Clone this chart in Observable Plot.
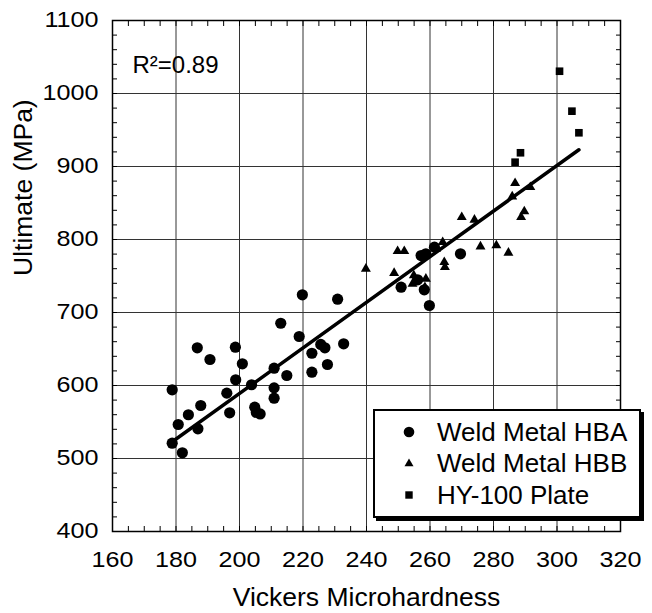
<!DOCTYPE html>
<html><head><meta charset="utf-8">
<script src="https://cdn.jsdelivr.net/npm/d3@7"></script>
<script src="https://cdn.jsdelivr.net/npm/@observablehq/plot@0.6"></script>
<style>
body{margin:0;background:#fff;font-family:"Liberation Sans",Arial,sans-serif;}
#wrap{position:relative;width:652px;height:613px;background:#fff;}
#legend{position:absolute;left:373px;top:409px;width:264px;height:105px;border:2px solid #000;box-shadow:3px 3px 0 #000;background:#fff;}
.row{position:absolute;left:0;height:30px;display:flex;align-items:center;font-size:26px;color:#000;white-space:nowrap;}
.row svg{margin-left:24px;margin-right:18px;}
</style></head><body><div id="wrap"></div>
<script>
// Weld Metal HBA (circles)
const hbaX = [186.7,190.7,198.7,200.9,210.9,213.0,198.8,203.8,210.9,210.9,178.8,196.0,187.8,183.9,196.9,204.8,205.3,206.5,180.7,186.9,178.8,182.0,
  219.8,230.9,218.8,225.6,226.9,232.8,222.8,227.7,222.8,214.9,257.2,258.7,261.4,269.6,250.9,256.1,258.2,259.8];
const hbaY = [651.6,635.6,652.5,629.7,623.7,685.3,607.8,601.0,596.8,582.6,594.1,589.5,572.6,559.9,562.6,570.3,563.0,561.0,546.6,540.7,521.0,507.8,
  724.2,718.2,667.1,656.2,651.6,657.1,644.2,628.8,618.2,613.7,778.0,780.4,789.5,780.4,734.7,744.8,731.1,709.6];
// Weld Metal HBB (triangles)
const hbbX = [239.8,249.8,251.9,248.7,254.9,254.5,258.7,258.4,264.0,264.5,264.7,261.9,270.0,274.0,275.9,280.9,284.7,286.8,291.6,285.9,289.7,288.7];
const hbbY = [759.9,784.0,784.0,754.0,750.7,739.3,746.2,734.7,796.3,768.9,762.0,787.3,830.5,827.0,790.4,791.8,781.8,877.1,871.6,858.9,838.4,830.5];
// HY-100 Plate (squares)
const plateX = [300.8,304.7,306.9,288.5,286.8];
const plateY = [1030.5,975.8,946.2,918.8,905.9];
// regression line end points
const fitX = [178.6,306.9];
const fitY = [522.3,922.9];
// ticks
const xTicks = [160,180,200,220,240,260,280,300,320];
const yTicks = [400,500,600,700,800,900,1000,1100];
const xMinor = d3.range(160,321,5);
const yMinor = d3.range(400,1101,20);
const seriesNames = ["Weld Metal HBA","Weld Metal HBB","HY-100 Plate"];
const r2Label = "R²=0.89";

const rows = (xs, ys) => xs.map((x,i)=>({x, y: ys[i]}));
const hba = rows(hbaX,hbaY), hbb = rows(hbbX,hbbY), plate = rows(plateX,plateY), fit = rows(fitX,fitY);
const noText = () => "";
const plain = d => String(d);

const plot = Plot.plot({
  width:652, height:613, marginLeft:112, marginRight:32, marginTop:20, marginBottom:82,
  x:{domain:[160,320]}, y:{domain:[400,1100]},
  style:{fontFamily:"'Liberation Sans', Arial, sans-serif", color:"#000", background:"#fff"},
  marks:[
    Plot.ruleX(xTicks.slice(1,-1), {stroke:"#333", strokeWidth:1}),
    Plot.ruleY(yTicks.slice(1,-1), {stroke:"#333", strokeWidth:1}),
    Plot.axisX(xMinor, {anchor:"bottom", tickSize:5, dy:-5, tickFormat:noText, label:null}),
    Plot.axisX(xMinor, {anchor:"top", tickSize:5, dy:5, tickFormat:noText, label:null}),
    Plot.axisY(yMinor, {anchor:"left", tickSize:5, dx:5, tickFormat:noText, label:null}),
    Plot.axisY(yMinor, {anchor:"right", tickSize:5, dx:-5, tickFormat:noText, label:null}),
    Plot.axisX(xTicks, {anchor:"bottom", tickSize:0, tickPadding:20, fontSize:21.5, tickFormat:plain, label:null}),
    Plot.axisY(yTicks, {anchor:"left", tickSize:0, tickPadding:14, fontSize:21.5, tickFormat:plain, label:null}),
    Plot.frame({stroke:"#000", strokeWidth:1.5}),
    Plot.line(fit, {x:"x", y:"y", stroke:"#000", strokeWidth:3.5}),
    Plot.dot(hba, {x:"x", y:"y", r:5.6, fill:"#000", symbol:"circle"}),
    Plot.dot(hbb, {x:"x", y:"y", r:3.7, fill:"#000", symbol:"triangle"}),
    Plot.dot(plate, {x:"x", y:"y", r:4.3, fill:"#000", symbol:"square"}),
    Plot.text([r2Label], {text:d=>d, frameAnchor:"top-left", dx:20, dy:35, textAnchor:"start", fontSize:24}),
    Plot.text(["Vickers Microhardness"], {text:d=>d, frameAnchor:"bottom", dy:74, fontSize:26.5}),
    Plot.text(["Ultimate (MPa)"], {text:d=>d, frameAnchor:"left", dx:-89, rotate:-90, fontSize:26.5})
  ]
});
const wrap = document.getElementById("wrap");
wrap.appendChild(plot);

// horizontally stretch the numeric tick labels (scale about each label's anchor)
plot.querySelectorAll("text").forEach(t => {
  if (!/^\d+$/.test(t.textContent.trim())) return;
  const tr = t.getAttribute("transform") || "";
  t.setAttribute("transform", `${tr} scale(1.17,1)`);
});

// legend
const legend = document.createElement("div");
legend.id = "legend";
const symbols = [
  '<circle cx="10" cy="10" r="5.3" fill="#000"/>',
  '<path d="M10,5.5L14.5,13.3L5.5,13.3Z" fill="#000"/>',
  '<rect x="6.3" y="6.3" width="7.4" height="7.4" fill="#000"/>'
];
const tops = [6, 37, 69];
seriesNames.forEach((name,i) => {
  const row = document.createElement("div");
  row.className = "row";
  row.style.top = tops[i] + "px";
  row.innerHTML = `<svg width="20" height="20">${symbols[i]}</svg><span>${name}</span>`;
  legend.appendChild(row);
});
wrap.appendChild(legend);
</script>
</body></html>
